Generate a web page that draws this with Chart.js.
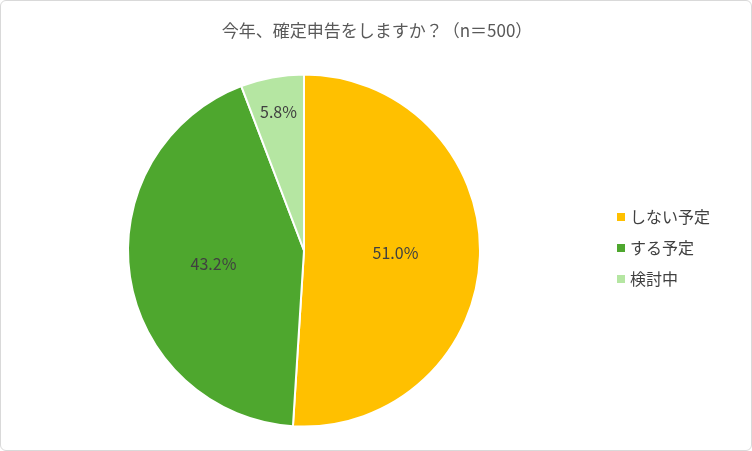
<!DOCTYPE html>
<html><head><meta charset="utf-8">
<script src="https://cdn.jsdelivr.net/npm/chart.js@4"></script>
<style>
html,body{margin:0;padding:0;background:#fff;}
#wrap{position:relative;width:750px;height:449px;border:1px solid #d9d9d9;border-radius:6px;}
</style></head><body>
<div id="wrap"><canvas id="c" width="750" height="449"></canvas></div>
<script>
const titleText = '今年、確定申告をしますか？（n＝500）';
const categories = ['しない予定', 'する予定', '検討中'];
const values = [51.0, 43.2, 5.8];
const colors = ['#FFC000', '#4EA72E', '#B5E6A2'];

const fontFam = '"Noto Sans CJK JP", "Noto Sans", sans-serif';

const overlay = {
  id: 'overlay',
  afterDraw(chart) {
    const ctx = chart.ctx;
    ctx.save();
    ctx.fillStyle = '#595959';
    ctx.font = '17px ' + fontFam;
    ctx.textAlign = 'center';
    ctx.textBaseline = 'middle';
    ctx.fillText(titleText, 376, 30);

    // slice labels
    const meta = chart.getDatasetMeta(0);
    ctx.fillStyle = '#404040';
    ctx.font = '16px ' + fontFam;
    meta.data.forEach((arc, i) => {
      const frac = i === 2 ? 0.8 : 0.52;
      const p = arc.getProps(['startAngle', 'endAngle', 'outerRadius', 'x', 'y'], true);
      const a = (p.startAngle + p.endAngle) / 2;
      const x = p.x + Math.cos(a) * p.outerRadius * frac;
      const y = p.y + Math.sin(a) * p.outerRadius * frac;
      ctx.fillText(values[i].toFixed(1) + '%', x, y);
    });

    // legend
    ctx.textAlign = 'left';
    ctx.font = '16px ' + fontFam;
    categories.forEach((c, i) => {
      const y = 216 + i * 31;
      ctx.fillStyle = colors[i];
      ctx.fillRect(616, y - 4, 8, 8);
      ctx.fillStyle = '#404040';
      ctx.fillText(c, 629, y);
    });
    ctx.restore();
  }
};

new Chart(document.getElementById('c'), {
  type: 'pie',
  data: {
    labels: categories,
    datasets: [{
      data: values,
      backgroundColor: colors,
      borderColor: '#fff',
      borderWidth: 2
    }]
  },
  options: {
    responsive: false,
    animation: false,
    layout: { padding: { top: 72, bottom: 22, left: 126, right: 270 } },
    plugins: { legend: { display: false }, tooltip: { enabled: false } }
  },
  plugins: [overlay]
});
</script>
</body></html>
